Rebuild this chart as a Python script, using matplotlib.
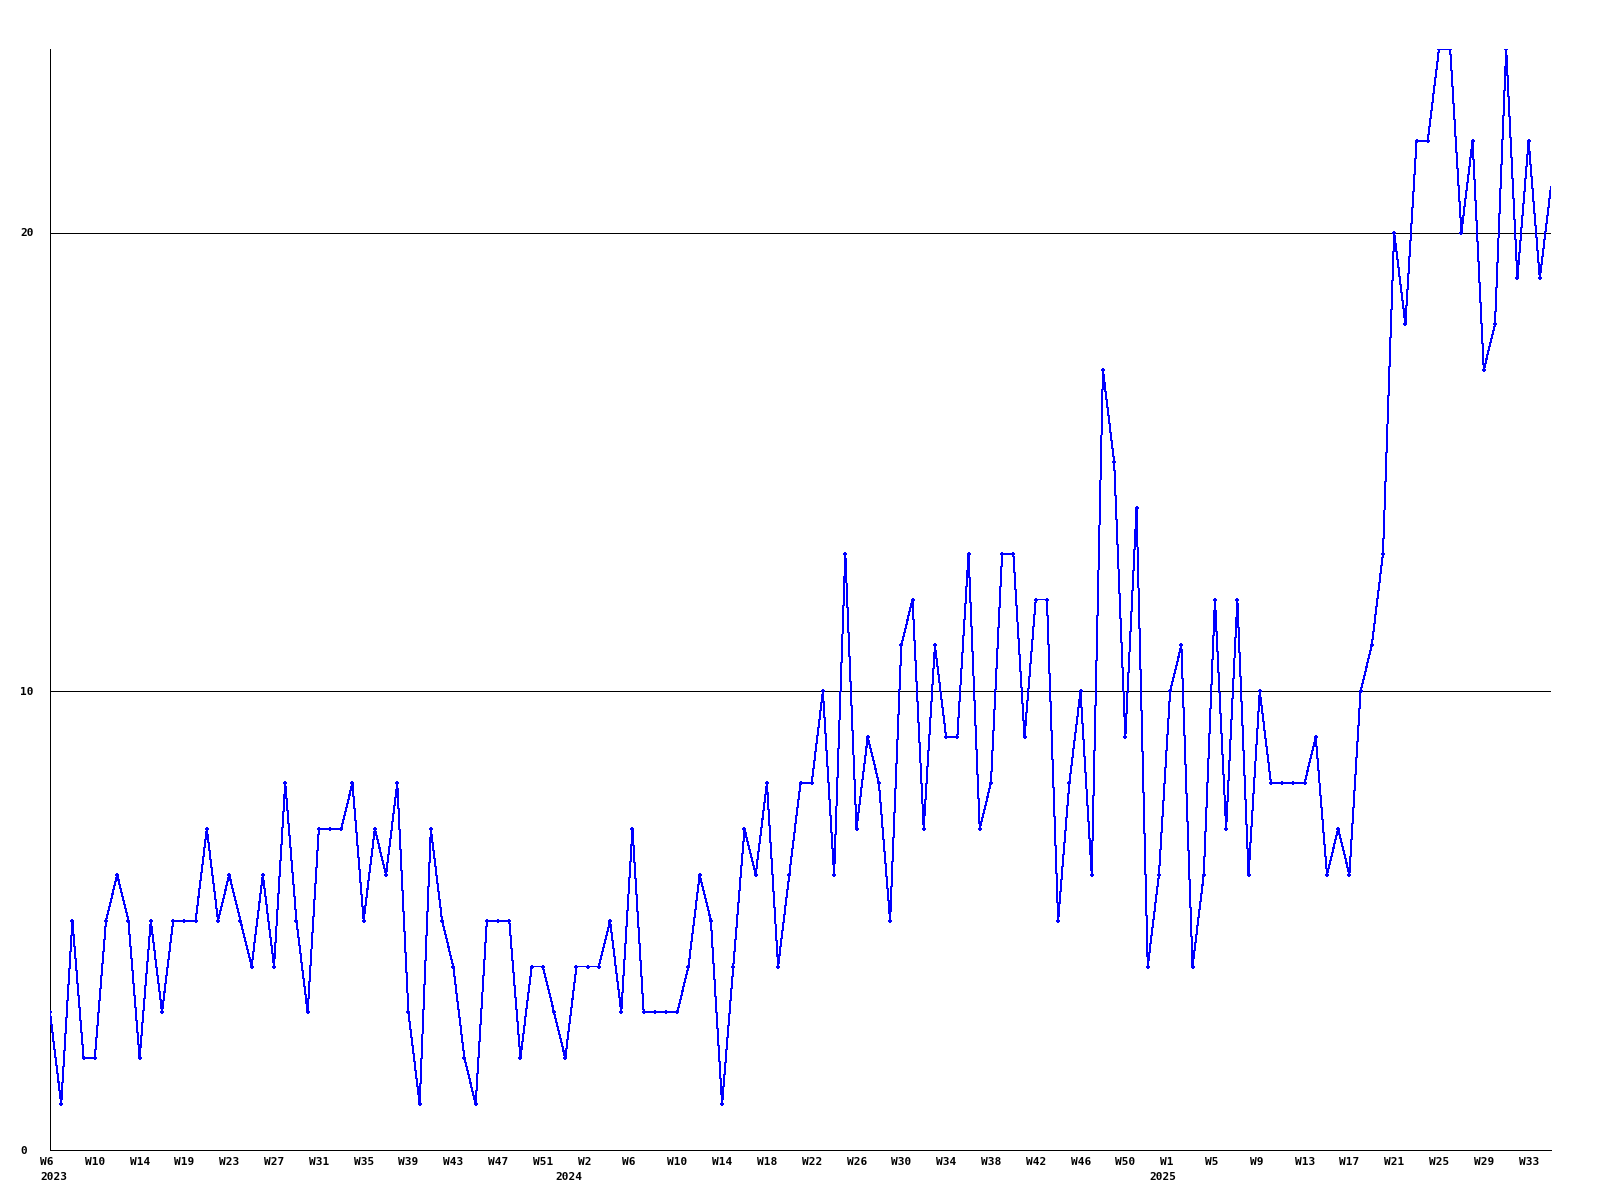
import matplotlib
matplotlib.use("Agg")
import matplotlib.pyplot as plt
import matplotlib.transforms as mtransforms

# ---- data ----
values = [3, 1, 5, 2, 2, 5, 6, 5, 2, 5,
          3, 5, 5, 5, 7, 5, 6, 5, 4, 6,
          4, 8, 5, 3, 7, 7, 7, 8, 5, 7,
          6, 8, 3, 1, 7, 5, 4, 2, 1, 5,
          5, 5, 2, 4, 4, 3, 2, 4, 4, 4,
          5, 3, 7, 3, 3, 3, 3, 4, 6, 5,
          1, 4, 7, 6, 8, 4, 6, 8, 8, 10,
          6, 13, 7, 9, 8, 5, 11, 12, 7, 11,
          9, 9, 13, 7, 8, 13, 13, 9, 12, 12,
          5, 8, 10, 6, 17, 15, 9, 14, 4, 6,
          10, 11, 4, 6, 12, 7, 12, 6, 10, 8,
          8, 8, 8, 9, 6, 7, 6, 10, 11, 13,
          20, 18, 22, 22, 24, 24, 20, 22, 17, 18,
          24, 19, 22, 19, 21]

week_labels = ["W6", "W10", "W14", "W19", "W23", "W27", "W31", "W35", "W39",
               "W43", "W47", "W51",
               "W2", "W6", "W10", "W14", "W18", "W22", "W26", "W30", "W34",
               "W38", "W42", "W46", "W50",
               "W1", "W5", "W9", "W13", "W17", "W21", "W25", "W29", "W33"]
week_label_step = 4

year_labels = ["2023", "2024", "2025"]
year_positions = [0, 46, 99]

y_ticks = [0, 10, 20]
y_max = 24

# ---- figure ----
W, H, DPI = 1600, 1200, 100
PX = 72 / DPI  # one pixel in points
fig = plt.figure(figsize=(W / DPI, H / DPI), dpi=DPI)
fig.patch.set_facecolor("white")

left_px, right_px, top_px, bottom_px = 50, 1551, 49, 1150
ax = fig.add_axes([left_px / W, 1 - bottom_px / H,
                   (right_px - left_px) / W, (bottom_px - top_px) / H])

x = list(range(len(values)))
ax.plot(x, values, color="#0000FF", linewidth=PX * 1.0, antialiased=False,
        zorder=3, clip_on=True)
ax.plot(x[:-1], values[:-1], linestyle="none", color="#0000FF",
        marker="+", markersize=5 * PX, markeredgewidth=2 * PX,
        antialiased=False, zorder=4)

ax.set_xlim(0, len(values) - 1)
ax.set_ylim(0, y_max)

# spines
for s in ["top", "right"]:
    ax.spines[s].set_visible(False)
for s in ["left", "bottom"]:
    ax.spines[s].set_color("black")
    ax.spines[s].set_linewidth(PX)
    ax.spines[s].set_antialiased(False)

# grid lines
for yv in y_ticks[1:]:
    ax.axhline(yv, color="black", linewidth=PX, antialiased=False, zorder=2)

font = dict(family="DejaVu Sans Mono", fontweight="bold", fontsize=8,
            color="black")

# y tick labels
ax.set_yticks(y_ticks)
ax.set_yticklabels([str(v) for v in y_ticks], **font)
ax.tick_params(axis="y", length=0, pad=(left_px - 20) * PX)
for lab in ax.get_yticklabels():
    lab.set_horizontalalignment("left")

# x labels (drawn as text, left aligned 10px before each tick)
ax.set_xticks([])
trans = mtransforms.blended_transform_factory(ax.transData, ax.transAxes)
off_w = mtransforms.ScaledTranslation(-10 / DPI, -12 / DPI, fig.dpi_scale_trans)
off_y = mtransforms.ScaledTranslation(-10 / DPI, -27 / DPI, fig.dpi_scale_trans)
for i, lab in enumerate(week_labels):
    ax.text(i * week_label_step, 0, lab, transform=trans + off_w,
            ha="left", va="center", clip_on=False, **font)
for pos, lab in zip(year_positions, year_labels):
    ax.text(pos, 0, lab, transform=trans + off_y,
            ha="left", va="center", clip_on=False, **font)

fig.savefig("out.png", dpi=DPI, facecolor="white")
